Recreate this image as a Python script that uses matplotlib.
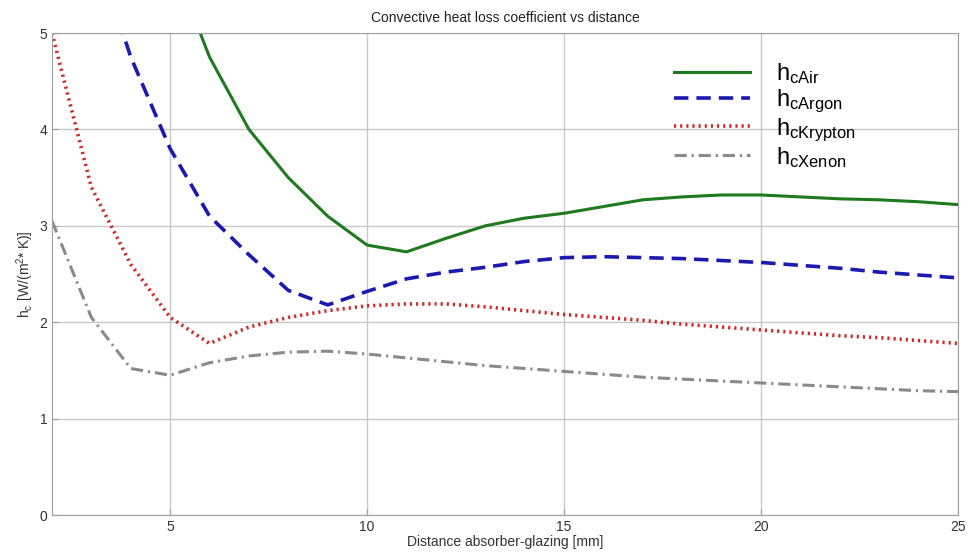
import numpy as np
import matplotlib.pyplot as plt

plt.rcParams['font.family'] = ['Liberation Sans', 'DejaVu Sans']

# distance absorber-glazing [mm]
distance = list(range(2, 26))

# h_c [W/(m^2*K)] per gas
h_air = [15.0, 10.0, 7.3, 5.8, 4.75, 4.0, 3.5, 3.1, 2.8, 2.73, 2.87, 3.0, 3.08, 3.13,
         3.2, 3.27, 3.3, 3.32, 3.32, 3.3, 3.28, 3.27, 3.25, 3.22]
h_argon = [9.0, 6.0, 4.75, 3.8, 3.1, 2.7, 2.33, 2.18, 2.32, 2.45, 2.52, 2.57, 2.63, 2.67,
           2.68, 2.67, 2.66, 2.64, 2.62, 2.59, 2.56, 2.52, 2.49, 2.46]
h_krypton = [5.0, 3.4, 2.6, 2.05, 1.78, 1.95, 2.05, 2.12, 2.17, 2.19, 2.19, 2.16, 2.12, 2.08,
             2.05, 2.02, 1.98, 1.95, 1.92, 1.89, 1.86, 1.84, 1.81, 1.78]
h_xenon = [3.05, 2.05, 1.52, 1.45, 1.58, 1.65, 1.69, 1.70, 1.67, 1.63, 1.59, 1.55, 1.52, 1.49,
           1.46, 1.43, 1.41, 1.39, 1.37, 1.35, 1.33, 1.31, 1.29, 1.28]

fig = plt.figure(figsize=(9.7, 5.55), dpi=100)
ax = fig.add_axes([0.0536, 0.072, 0.934, 0.8685])

ax.plot(distance, h_air, color='#1f7a1f', lw=2.2, ls='-', label=r'$\mathregular{h_{cAir}}$')
ax.plot(distance, h_argon, color='#1a1ab0', lw=2.6, ls=(0, (4, 2.2)), label=r'$\mathregular{h_{cArgon}}$')
ax.plot(distance, h_krypton, color='#d02828', lw=2.6, ls=(0, (0.6, 1.1)), label=r'$\mathregular{h_{cKrypton}}$')
ax.plot(distance, h_xenon, color='#8a8a8a', lw=2.2, ls=(0, (4, 1.6, 0.7, 1.6)), label=r'$\mathregular{h_{cXenon}}$')

ax.set_xlim(2, 25)
ax.set_ylim(0, 5)
ax.set_xticks([5, 10, 15, 20, 25])
ax.set_yticks([0, 1, 2, 3, 4, 5])
ax.grid(True, color='#c8c8c8', lw=1.0)
for s in ax.spines.values():
    s.set_color('#a0a0a0')
ax.tick_params(colors='#a0a0a0', labelcolor='#333333', labelsize=10, length=4, direction='in')

ax.set_title('Convective heat loss coefficient vs distance', fontsize=10, color='#222222', pad=8)
ax.set_xlabel('Distance absorber-glazing [mm]', fontsize=10, color='#333333', labelpad=1)
ax.set_ylabel(r'$\mathregular{h_c\ [W/(m^2\!*K)]}$', fontsize=10, color='#333333', labelpad=2)

leg = ax.legend(loc='upper right', bbox_to_anchor=(0.91, 0.985), frameon=False, fontsize=17,
                handlelength=3.2, labelspacing=0.05, handletextpad=1.1)

fig.savefig('out.png', dpi=100)
